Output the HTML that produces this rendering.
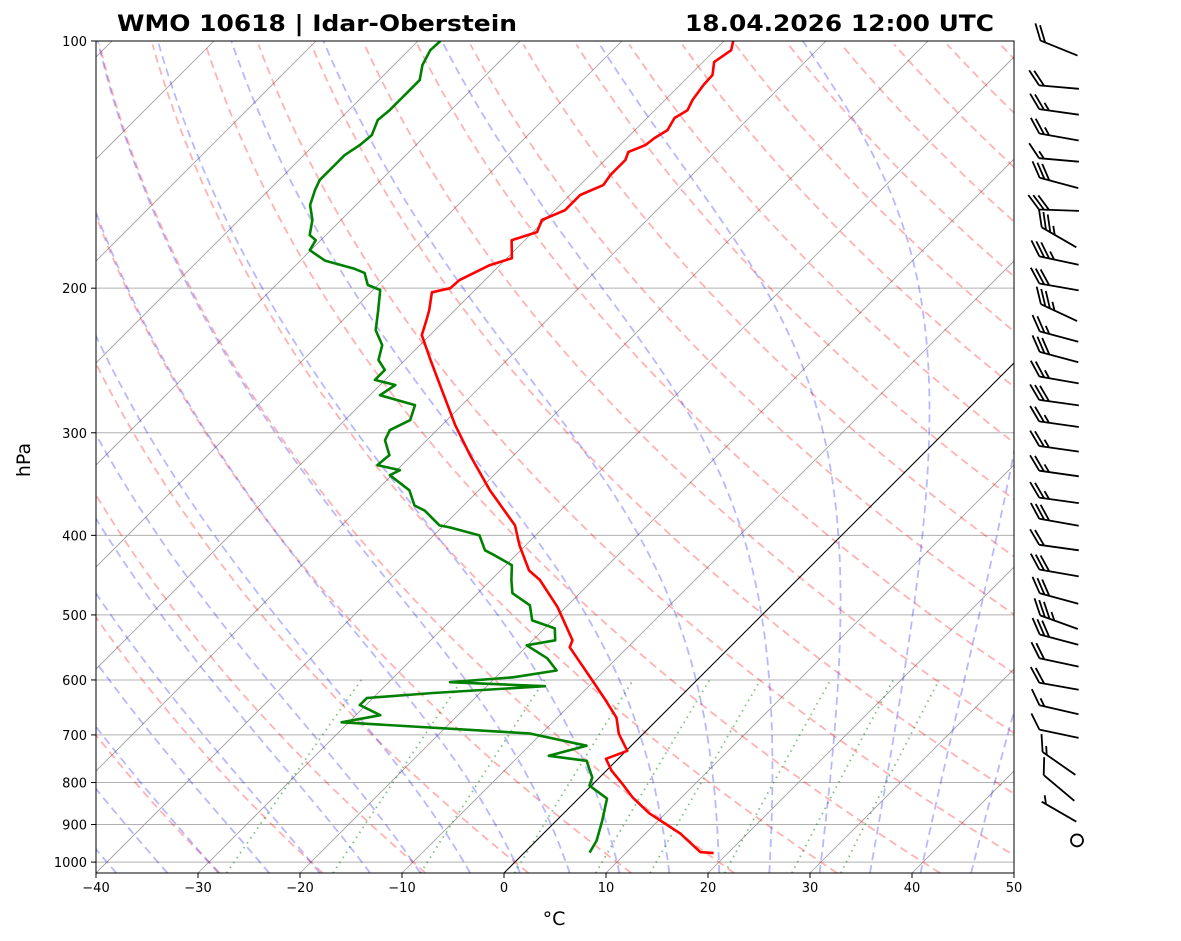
<!DOCTYPE html>
<html><head><meta charset="utf-8"><style>
html,body{margin:0;padding:0;background:#fff;}
svg{display:block;font-family:"DejaVu Sans","Liberation Sans",sans-serif;}
</style></head><body>
<svg id="chart" width="1181" height="941" viewBox="0 0 1181 941" xmlns="http://www.w3.org/2000/svg">
<defs><clipPath id="plotclip"><rect x="96" y="41" width="918" height="832"/></clipPath></defs>
<rect x="0" y="0" width="1181" height="941" fill="#fff"/>
<g id="bg" clip-path="url(#plotclip)"></g>
<g id="series" clip-path="url(#plotclip)"></g>
<rect x="96" y="41" width="918" height="832" fill="none" stroke="#000" stroke-width="1"/>
<g id="axes"></g>
<g id="barbs"></g>
<text x="117" y="31" font-size="22" font-weight="bold" textLength="400" lengthAdjust="spacingAndGlyphs">WMO 10618 | Idar-Oberstein</text>
<text x="685" y="31" font-size="22" font-weight="bold" textLength="309" lengthAdjust="spacingAndGlyphs">18.04.2026 12:00 UTC</text>
<text x="30" y="460" font-size="19" text-anchor="middle" transform="rotate(-90 30 460)">hPa</text>
<text x="554" y="925" font-size="19" text-anchor="middle">°C</text>
</svg>
<script>
// ---- data ----
const tempP = [100,102.6,106.1,110,113.1,118,121.4,124.1,128.4,131.3,133.9,136.5,139.6,145.7,149.8,154,160.7,165.2,170.9,174.8,183.9,187.5,195.6,200,202.3,212.8,218.8,228.1,244.6,262.5,293.6,319.4,352.5,389,411.4,441.4,453.4,489.3,536.8,547.3,601,630.5,667,697.7,731.8,748.4,773.7,802.2,834.1,872.2,924,972.4,975];
const tempT = [-59.1,-58.4,-58.9,-57.8,-57.7,-57.3,-56.8,-57.3,-56.8,-57.3,-57.5,-58.5,-58.0,-58.0,-57.7,-59.0,-59.0,-60.3,-59.6,-61.3,-59.5,-61.0,-62.5,-62.6,-64.0,-62.5,-61.8,-60.8,-57.5,-54.1,-48.7,-44.3,-38.9,-33.0,-30.6,-27.2,-25.2,-20.8,-16.1,-15.7,-10.2,-7.4,-4.2,-2.4,0.1,-1.2,0.5,2.8,5.2,8.4,13.5,17.2,18.6];
const dewP = [100,102.6,107,111.6,114.7,118,121.4,124.8,130.2,133.9,137.7,141.6,147.7,151.8,158.4,165.2,172.3,174.8,179.8,185.1,189.4,191.6,198.2,201,212.8,225,234.6,244.6,251.6,258.7,262.4,270,277.6,289.5,297.8,306.3,319.4,328.5,333.2,337.9,352.5,367.9,373.2,389,391.2,400,417.1,422.9,434.9,453.4,470.5,486.7,507.7,519.2,536.8,544.4,564.7,584.3,595.5,603.8,610.7,622.4,631.1,643.8,662.4,675.6,697.1,721.4,742.2,752.7,789,806.9,836.8,890.3,941.5,973.8];
const dewT = [-87.8,-87.9,-87.2,-86.0,-86.0,-86.0,-86.0,-86.2,-85.3,-85.5,-86.0,-86.0,-86.0,-85.5,-84.5,-82.8,-81.6,-80.5,-80.1,-77.6,-73.9,-72.5,-71.0,-69.3,-67.5,-65.8,-63.7,-62.6,-61.0,-61.0,-58.5,-59.0,-54.6,-53.6,-54.6,-54.1,-52.2,-52.4,-49.7,-50.2,-46.8,-44.8,-43.3,-40.4,-39.2,-35.5,-33.5,-32.1,-29.4,-28.0,-26.6,-23.7,-22.0,-19.0,-17.8,-20.1,-16.8,-14.7,-18.3,-24.0,-14.3,-24.6,-30.6,-30.6,-27.6,-30.7,-11.2,-4.4,-7.1,-2.9,-0.7,-0.2,2.8,4.5,5.9,6.4];
const barbP = [102,113.8,122,130.9,139.6,148.9,160.7,173.4,185.1,199.3,214.2,229.1,242.6,258.7,275.7,292.9,313.8,336.3,362.6,385.6,413.9,444.5,477.5,510.3,535.9,571.2,610.7,652.4,697.7,758.3,812.3,868.1,941];
const barbDir = [292,275,278,280,275,285,272,300,282,280,295,285,285,280,278,278,278,278,278,280,278,280,285,290,285,282,280,283,282,305,310,300,0];
const barbSpd = [20,20,25,25,15,30,30,35,35,30,35,25,30,25,30,25,25,25,25,30,20,30,30,35,30,20,20,15,10,15,10,5,0];
const xTicks = [-40,-30,-20,-10,0,10,20,30,40,50];
const pTicks = [100,200,300,400,500,600,700,800,900,1000];

// ---- axes functions ----
const X0=96, X1=1014, Y0=41, Y1=873, PX=10.2, K=356.6;
function yP(p){return Y0+K*Math.log(p/100);}
function xT(T,p){return X0+(T+40)*PX+(Y1-yP(p));}
const NS="http://www.w3.org/2000/svg";
function mk(tag,attrs,parent){const e=document.createElementNS(NS,tag);for(const k in attrs)e.setAttribute(k,attrs[k]);parent.appendChild(e);return e;}
const bg=document.getElementById('bg'), ser=document.getElementById('series'), ax=document.getElementById('axes'), bb=document.getElementById('barbs');
const PBOT=1031;
function pathFrom(ps,fn){let d='';ps.forEach((p,i)=>{const T=fn(p);d+=(i?'L':'M')+xT(T,p).toFixed(1)+' '+yP(p).toFixed(1);});return d;}
const pGrid=[];for(let p=PBOT;p>=99;p-=5)pGrid.push(p);

pTicks.forEach(p=>{
  const l=mk('line',{x1:X0,x2:X1,y1:yP(p),y2:yP(p),stroke:'#b0b0b0','stroke-width':1},bg);
  
  
});
for(let T=-140;T<=50;T+=10){
  const l=mk('line',{x1:xT(T,PBOT),y1:yP(PBOT),x2:xT(T,100),y2:yP(100),stroke:'#999','stroke-width':0.8},bg);
  
  
}
for(let th=-30;th<200;th+=10){
  const TK=th+273.15;
  const d=pathFrom(pGrid,p=>TK*Math.pow(p/1000,0.2857)-273.15);
  const e=mk('path',{d:d,fill:'none',stroke:'rgba(255,0,0,0.3)','stroke-width':1.8,'stroke-dasharray':'8,5'},bg);
  
  
}
function es(Tc){return 6.112*Math.exp(17.67*Tc/(Tc+243.5));}
function dTdp(T,p){const Tc=T-273.15;const e=es(Tc);const rs=0.622*e/(p-e);const Rd=287.04,Cp=1005.7,Lv=2.501e6;
  return (Rd*T+Lv*rs)/(p*(Cp+Lv*Lv*rs*0.622/(Rd*T*T)));}
function integrate(T0,pa,pb,step){const out=[[pa,T0]];let T=T0,p=pa;const n=Math.ceil(Math.abs(pb-pa)/step);const h=(pb-pa)/n;
  for(let i=0;i<n;i++){const k1=dTdp(T,p),k2=dTdp(T+h*k1/2,p+h/2),k3=dTdp(T+h*k2/2,p+h/2),k4=dTdp(T+h*k3,p+h);T+=h*(k1+2*k2+2*k3+k4)/6;p+=h;out.push([p,T]);}return out;}
for(let t0=-40;t0<=45;t0+=5){
  const up=integrate(t0+273.15,1000,100,5), dn=integrate(t0+273.15,1000,PBOT,5);
  const pts=dn.reverse().concat(up.slice(1));
  let d='';pts.forEach((q,i)=>{d+=(i?'L':'M')+xT(q[1]-273.15,q[0]).toFixed(1)+' '+yP(q[0]).toFixed(1);});
  const e=mk('path',{d:d,fill:'none',stroke:'rgba(0,0,255,0.28)','stroke-width':1.8,'stroke-dasharray':'8,5'},bg);
  
  
}
[0.0004,0.001,0.002,0.004,0.007,0.01,0.016,0.024,0.032].forEach(w=>{
  const ps=[];for(let p=PBOT;p>=600;p-=10)ps.push(p);ps.push(600);
  const d=pathFrom(ps,p=>{const e=w*p/(0.622+w);const l=Math.log(e/6.112);return 243.5*l/(17.67-l);});
  const e=mk('path',{d:d,fill:'none',stroke:'rgba(0,128,0,0.5)','stroke-width':1.8,'stroke-dasharray':'1.5,4.5'},bg);
  
  
});
const zl=mk('line',{x1:xT(0,PBOT),y1:yP(PBOT),x2:xT(0,100),y2:yP(100),stroke:'#000','stroke-width':1},bg);



function profile(P,T,color,name){let d='';P.forEach((p,i)=>{d+=(i?'L':'M')+xT(T[i],p).toFixed(1)+' '+yP(p).toFixed(1);});
  const e=mk('path',{d:d,fill:'none',stroke:color,'stroke-width':2.6,'stroke-linejoin':'round'},ser);
  
  }
profile(tempP,tempT,'#ff0000','temperature-line');
profile(dewP,dewT,'#008000','dewpoint-line');

xTicks.forEach(T=>{const x=X0+(T+40)*PX;
  const t=mk('line',{x1:x,x2:x,y1:Y1,y2:Y1+5,stroke:'#000'},ax);
  
  
  const lb=mk('text',{x:x,y:Y1+19,'font-size':13,'text-anchor':'middle'},ax);lb.textContent=(T<0?'\u2212'+(-T):T);
  
  
});
pTicks.forEach(p=>{const y=yP(p);
  const t=mk('line',{x1:X0-5,x2:X0,y1:y,y2:y,stroke:'#000'},ax);
  
  
  const lb=mk('text',{x:X0-9,y:y+5,'font-size':13,'text-anchor':'end'},ax);lb.textContent=p;
  
  
});

// wind barbs
const BX=1059, L=40, FL=18, SP=5;
barbP.forEach((p,i)=>{
  const y=yP(p), spd=barbSpd[i], dir=barbDir[i]*Math.PI/180;
  const g=mk('g',{},bb);
  
  
  if(spd<2.5){mk('circle',{cx:BX+18,cy:y,r:6,fill:'none',stroke:'#000','stroke-width':1.8},g);return;}
  const u=[Math.sin(dir),-Math.cos(dir)];
  const perp=[-u[1],u[0]];
  const perpUp = perp[1]<0?perp:[-perp[0],-perp[1]];
  const tip=[BX+u[0]*L/2,y+u[1]*L/2], tail=[BX-u[0]*L/2,y-u[1]*L/2];
  let d='M'+tail[0].toFixed(1)+' '+tail[1].toFixed(1)+'L'+tip[0].toFixed(1)+' '+tip[1].toFixed(1);
  const full=Math.floor(spd/10), half=(spd%10)>=5?1:0;
  let pos=0;
  const fx=perpUp[0]*0.78+u[0]*0.62, fy=perpUp[1]*0.78+u[1]*0.62;
  for(let k=0;k<full;k++){const b=[tip[0]-u[0]*pos,tip[1]-u[1]*pos];
    const e=[b[0]+fx*FL,b[1]+fy*FL];
    d+='M'+b[0].toFixed(1)+' '+b[1].toFixed(1)+'L'+e[0].toFixed(1)+' '+e[1].toFixed(1);pos+=SP;}
  if(half){if(full===0)pos+=SP;const b=[tip[0]-u[0]*pos,tip[1]-u[1]*pos];
    const e=[b[0]+fx*FL*0.5,b[1]+fy*FL*0.5];
    d+='M'+b[0].toFixed(1)+' '+b[1].toFixed(1)+'L'+e[0].toFixed(1)+' '+e[1].toFixed(1);}
  mk('path',{d:d,fill:'none',stroke:'#000','stroke-width':1.8},g);
});
</script>
</body></html>
